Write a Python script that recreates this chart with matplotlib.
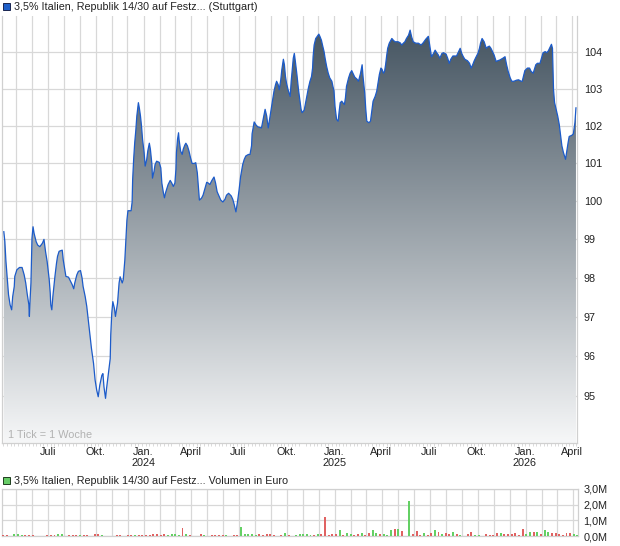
import numpy as np
import pandas as pd
import matplotlib
matplotlib.use('Agg')
import matplotlib.pyplot as plt
import matplotlib.dates as mdates
from matplotlib.patches import Polygon, Rectangle
from matplotlib.ticker import FixedLocator, FuncFormatter

plt.rcParams['font.family'] = ['Liberation Sans', 'DejaVu Sans']

# ---------------- data ----------------
start_date = '2023-04-07'
price_days = [
    1, 3, 5, 8, 10, 13, 16, 18, 21, 22, 26, 31, 36, 40, 43, 46, 49, 50, 51, 53,
    54, 55, 57, 59, 63, 66, 70, 75, 78, 81, 84, 88, 90, 91, 93, 95, 97, 99, 102, 104,
    107, 113, 115, 118, 120, 125, 129, 132, 135, 137, 141, 144, 148, 151, 153, 157, 160, 163, 166, 169,
    173, 176, 179, 182, 185, 189, 191, 193, 196, 198, 201, 205, 206, 208, 210, 213, 215, 219, 222, 224,
    228, 230, 233, 235, 237, 239, 245, 247, 248, 250, 252, 254, 256, 258, 259, 261, 263, 265, 267, 270,
    272, 275, 277, 280, 282, 285, 286, 289, 291, 294, 299, 302, 304, 307, 309, 311, 314, 316, 320, 323,
    326, 329, 331, 332, 334, 336, 337, 340, 343, 345, 348, 350, 353, 356, 359, 362, 366, 369, 372, 374,
    376, 380, 383, 387, 390, 393, 396, 400, 404, 407, 410, 414, 417, 421, 425, 428, 432, 437, 440, 443,
    446, 449, 452, 455, 459, 462, 465, 470, 473, 476, 477, 481, 485, 488, 495, 497, 500, 502, 505, 508,
    511, 515, 517, 519, 522, 524, 527, 529, 532, 534, 537, 539, 541, 543, 546, 550, 552, 554, 556, 558,
    560, 563, 566, 569, 571, 573, 577, 579, 582, 585, 588, 591, 593, 594, 596, 599, 602, 605, 607, 610,
    612, 615, 617, 620, 623, 626, 630, 632, 634, 636, 639, 642, 644, 646, 649, 651, 654, 656, 658, 662,
    665, 668, 671, 674, 678, 681, 685, 688, 690, 693, 695, 697, 701, 704, 707, 709, 713, 716, 718, 721,
    724, 726, 729, 731, 733, 735, 737, 740, 743, 745, 748, 751, 754, 757, 761, 764, 767, 770, 773, 777,
    780, 783, 786, 791, 796, 801, 805, 810, 815, 818, 821, 825, 828, 831, 834, 837, 841, 844, 849, 852,
    855, 858, 862, 865, 869, 872, 876, 879, 882, 885, 890, 894, 897, 900, 903, 906, 910, 913, 915, 918,
    922, 926, 929, 932, 935, 938, 941, 945, 948, 952, 958, 962, 965, 968, 972, 975, 979, 984, 988, 993,
    995, 998, 1000, 1005, 1009, 1012, 1016, 1018, 1021, 1024, 1029, 1032, 1035, 1039, 1042, 1045, 1048, 1051, 1053, 1055,
    1057, 1060, 1063, 1066, 1069, 1071, 1074, 1077, 1078, 1080, 1083, 1085, 1090, 1093, 1096, 1098,
]
price_values = [
    99.20, 98.94, 98.44, 97.91, 97.57, 97.31, 97.18, 97.52, 97.78, 98.04, 98.21, 98.27, 98.27, 98.08, 97.87, 97.57, 97.31, 97.01, 97.35, 97.87,
    98.43, 99.03, 99.33, 99.16, 98.94, 98.85, 98.81, 98.90, 99.00, 98.68, 98.43, 97.96, 97.61, 97.31, 97.18, 97.52, 97.78, 98.04, 98.38, 98.56,
    98.69, 98.72, 98.46, 98.21, 98.04, 98.02, 97.91, 97.83, 97.72, 97.87, 98.08, 98.17, 98.19, 98.00, 97.78, 97.52, 97.27, 96.92, 96.58, 96.20,
    95.82, 95.40, 95.15, 94.98, 95.27, 95.52, 95.56, 95.23, 94.94, 95.19, 95.52, 95.94, 96.54, 97.10, 97.39, 97.22, 97.01, 97.35, 97.87, 98.03,
    97.87, 97.96, 98.46, 98.98, 99.50, 99.75, 99.75, 99.98, 100.57, 101.13, 101.56, 101.87, 102.27, 102.52, 102.63, 102.47, 102.27, 102.00, 101.64, 101.29,
    100.93, 101.11, 101.33, 101.54, 101.38, 100.97, 100.61, 100.79, 100.97, 101.06, 101.03, 100.88, 100.48, 100.22, 100.09, 100.22, 100.35, 100.44, 100.55, 100.48,
    100.39, 100.48, 100.84, 101.29, 101.64, 101.82, 101.64, 101.33, 101.24, 101.38, 101.49, 101.54, 101.47, 101.33, 101.15, 101.00, 101.00, 101.02, 100.75, 100.39,
    100.03, 100.08, 100.16, 100.35, 100.50, 100.48, 100.44, 100.55, 100.64, 100.48, 100.25, 100.12, 100.03, 99.98, 100.05, 100.16, 100.21, 100.14, 100.05, 99.90,
    99.72, 99.98, 100.29, 100.65, 100.97, 101.11, 101.20, 101.24, 101.24, 101.47, 101.79, 102.11, 102.02, 101.98, 101.95, 102.09, 102.31, 102.45, 102.27, 101.95,
    102.22, 102.58, 102.76, 102.94, 103.12, 103.21, 103.12, 102.98, 103.25, 103.52, 103.81, 103.66, 103.34, 103.16, 102.98, 102.80, 103.21, 103.52, 103.84, 103.97,
    103.75, 103.39, 102.98, 102.67, 102.45, 102.36, 102.43, 102.58, 102.80, 103.03, 103.21, 103.34, 103.57, 103.88, 104.20, 104.38, 104.44, 104.50, 104.44, 104.33,
    104.20, 104.02, 103.84, 103.61, 103.43, 103.30, 103.21, 103.07, 102.96, 102.53, 102.18, 102.13, 102.40, 102.63, 102.67, 102.63, 102.58, 102.76, 103.07, 103.30,
    103.43, 103.50, 103.41, 103.32, 103.27, 103.21, 103.43, 103.66, 103.30, 102.89, 102.45, 102.13, 102.09, 102.13, 102.45, 102.67, 102.80, 102.94, 103.12, 103.39,
    103.57, 103.54, 103.43, 103.48, 103.66, 103.90, 104.11, 104.25, 104.33, 104.38, 104.33, 104.29, 104.29, 104.29, 104.26, 104.20, 104.25, 104.29, 104.38, 104.47,
    104.61, 104.42, 104.29, 104.25, 104.25, 104.20, 104.26, 104.36, 104.44, 104.15, 103.88, 103.97, 104.06, 103.99, 103.93, 103.84, 103.97, 103.99, 103.95, 103.84,
    103.70, 103.81, 103.90, 103.90, 103.90, 103.99, 104.11, 103.97, 103.88, 103.81, 103.77, 103.70, 103.57, 103.66, 103.77, 103.86, 103.97, 104.11, 104.25, 104.38,
    104.29, 104.11, 104.15, 104.17, 104.11, 104.02, 103.93, 103.75, 103.77, 103.79, 103.84, 103.88, 103.66, 103.48, 103.30, 103.21, 103.21, 103.24, 103.25, 103.21,
    103.21, 103.39, 103.50, 103.57, 103.57, 103.48, 103.43, 103.52, 103.66, 103.70, 103.70, 103.84, 103.99, 104.02, 103.99, 104.04, 104.13, 104.22, 104.11, 102.98,
    102.63, 102.45, 102.27, 102.04, 101.69, 101.47, 101.29, 101.15, 101.11, 101.29, 101.56, 101.72, 101.75, 101.79, 102.09, 102.49,
]

# weekly volume (millions of euro), first week = start_date
volume_millions = [
    0.04, 0.06, 0, 0.10, 0.10, 0.08, 0.04, 0.04, 0.04, 0,
    0, 0, 0.04, 0.04, 0.06, 0.10, 0.10, 0, 0.08, 0.04,
    0.04, 0.08, 0.06, 0.08, 0, 0.10, 0.15, 0.04, 0, 0,
    0, 0.04, 0.04, 0, 0.04, 0.04, 0.08, 0.06, 0.04, 0.04,
    0.06, 0.10, 0.10, 0.06, 0.10, 0.06, 0.10, 0.10, 0.08, 0.53,
    0.15, 0.04, 0, 0, 0.10, 0.06, 0, 0.08, 0.04, 0.04,
    0.06, 0.08, 0, 0.06, 0.08, 0.60, 0.10, 0.13, 0.10, 0.06,
    0.13, 0.08, 0.13, 0.13, 0.04, 0, 0.08, 0.19, 0.08, 0,
    0.06, 0.10, 0.15, 0.15, 0.08, 0.06, 0.10, 0.13, 1.20, 0.06,
    0.10, 0.15, 0.40, 0.06, 0.17, 0.10, 0.04, 0.10, 0.21, 0.06,
    0.19, 0.40, 0.21, 0.10, 0.10, 0.06, 0.38, 0.45, 0.45, 0.34,
    0, 2.25, 0.10, 0.34, 0.06, 0.17, 0.06, 0.21, 0.40, 0.23,
    0.13, 0.19, 0.13, 0.28, 0.13, 0.04, 0, 0.15, 0.23, 0.06,
    0.04, 0, 0.10, 0.04, 0.06, 0.17, 0.17, 0.13, 0.15, 0.15,
    0.17, 0.04, 0.47, 0.13, 0.26, 0.28, 0.28, 0.13, 0.38, 0.26,
    0.19, 0.19, 0.13, 0.04, 0.17, 0.17, 0.10, 0.08,
]
volume_direction = (
    'rr-gggrrr-' '--rrrgg-rr' 'rgrr-rrg--' '-rr-rrgrrr' 'rrrrrggggr'
    'gr--rg-rrr' 'rg-rrggggg' 'rrrrr-rgr-' 'gggggrgrrr' 'rrgrggrrgr'
    'rggrgggrgr' '-grrrgrrgr' 'grrgrg-rrg' 'g-rrrrgrrr' 'rrrggrgrgg'
    'rrrrrrgg'
)

price_ticks = [95, 96, 97, 98, 99, 100, 101, 102, 103, 104]
volume_ticks = [0, 1, 2, 3]
month_names = {1: 'Jan.', 4: 'April', 7: 'Juli', 10: 'Okt.'}
title_price = '3,5% Italien, Republik 14/30 auf Festz... (Stuttgart)'
title_volume = '3,5% Italien, Republik 14/30 auf Festz... Volumen in Euro'
tick_note = '1 Tick = 1 Woche'

# ---------------- figure ----------------
W, H = 620, 546
fig = plt.figure(figsize=(W / 100, H / 100), dpi=100)
fig.patch.set_facecolor('white')

def fx(px):
    return px / W

def fy(py):
    return 1 - py / H

start = pd.Timestamp(start_date)
dates = start + pd.to_timedelta(price_days, unit='D')
xnum = mdates.date2num(dates)
vals = np.array(price_values)

x_left = mdates.date2num(pd.Timestamp('2023-04-04 12:00'))
x_right = mdates.date2num(pd.Timestamp('2026-04-11'))

grid_c = '#d8d8d8'
spine_c = '#d0d0d0'
text_c = '#222222'
lab_size = 7.8

ax = fig.add_axes([fx(2), fy(443), fx(575), (443 - 16) / H])
ax.set_yscale('log')
ylo, yhi = 93.83, 105.0
ax.set_ylim(ylo, yhi)
ax.set_xlim(x_left, x_right)

# gradient fill under the line
grad = np.linspace(0, 1, 256).reshape(-1, 1)
top_c = np.array([64, 80, 93]) / 255
bot_c = np.array([246, 247, 248]) / 255
rgb = top_c[None, None, :] * (1 - grad[:, :, None]) + bot_c[None, None, :] * grad[:, :, None]
im = ax.imshow(rgb, extent=[0, 1, 0, 1], transform=ax.transAxes, aspect='auto',
               origin='upper', zorder=1, interpolation='bilinear')
poly_xy = np.column_stack([np.r_[xnum[0], xnum, xnum[-1]], np.r_[ylo * 0.98, vals, ylo * 0.98]])
poly = Polygon(poly_xy, closed=True, transform=ax.transData, facecolor='none', edgecolor='none')
ax.add_patch(poly)
im.set_clip_path(poly)

ax.plot(xnum, vals, color='#1c5bc9', lw=0.9, zorder=3)

# x ticks: month starts -> gridlines, quarter labels
months = pd.date_range('2023-05-01', '2026-04-01', freq='MS')
mnum = mdates.date2num(months)
labels = []
for m in months:
    if m.month in month_names:
        lab = month_names[m.month]
        if m.month == 1:
            lab += '\n' + str(m.year)
        labels.append(lab)
    else:
        labels.append('')
ax.set_xticks(mnum)
ax.set_xticklabels(labels, fontsize=lab_size, color=text_c, linespacing=1.1)
weeks = pd.date_range(start, '2026-04-11', freq='7D')
ax.xaxis.set_minor_locator(FixedLocator(mdates.date2num(weeks)))
ax.tick_params(axis='x', which='major', length=0, pad=3)
ax.tick_params(axis='x', which='minor', length=2, color='#d4d4d4', width=0.6)

ax.yaxis.tick_right()
ax.yaxis.set_major_locator(FixedLocator(price_ticks))
ax.yaxis.set_minor_locator(FixedLocator([]))
ax.yaxis.set_major_formatter(FuncFormatter(lambda v, p: f'{v:.0f}'))
ax.tick_params(axis='y', which='major', length=0, pad=5, labelsize=lab_size, labelcolor=text_c)

ax.grid(True, which='major', axis='both', color=grid_c, lw=0.9, zorder=0)
ax.set_axisbelow(True)
for s in ['left', 'right', 'bottom']:
    ax.spines[s].set_color(spine_c)
    ax.spines[s].set_linewidth(0.9)
ax.spines['top'].set_visible(False)
ax.set_facecolor('white')

ax.text(6 / 575, 3 / 427, tick_note, transform=ax.transAxes, fontsize=lab_size,
        color='#b2b2b2', ha='left', va='bottom', zorder=5)

# titles with colour squares
fig.patches.append(Rectangle((fx(3), fy(10)), fx(7), 7 / H, transform=fig.transFigure,
                             facecolor='#1f5fc8', edgecolor='#1a2550', lw=0.7))
fig.text(fx(14), fy(7), title_price, fontsize=7.75, color=text_c, ha='left', va='center')

fig.patches.append(Rectangle((fx(3), fy(484)), fx(7), 7 / H, transform=fig.transFigure,
                             facecolor='#66cc66', edgecolor='#1f3d1f', lw=0.7))
fig.text(fx(14), fy(480.5), title_volume, fontsize=7.75, color=text_c, ha='left', va='center')

# ---------------- volume panel ----------------
axv = fig.add_axes([fx(2), fy(536), fx(576), (536 - 489) / H])
axv.set_xlim(x_left, x_right)
axv.set_ylim(0, 3)
vdates = start + pd.to_timedelta(np.arange(len(volume_millions)) * 7, unit='D')
vnum = mdates.date2num(vdates)
for xv, v, d in zip(vnum, volume_millions, volume_direction):
    if d == '-' or v <= 0:
        continue
    axv.bar(xv, v, width=3.8, color='#64d064' if d == 'g' else '#e06262',
            align='center', zorder=3, lw=0)

axv.set_xticks(mnum)
axv.set_xticklabels([])
axv.tick_params(axis='x', length=0)
axv.yaxis.tick_right()
axv.yaxis.set_major_locator(FixedLocator(volume_ticks))
axv.yaxis.set_major_formatter(FuncFormatter(lambda v, p: f'{v:.1f}'.replace('.', ',') + 'M'))
axv.tick_params(axis='y', length=0, pad=4, labelsize=lab_size, labelcolor=text_c)
axv.grid(True, axis='both', color=grid_c, lw=0.9, zorder=0)
axv.set_axisbelow(True)
for s in ['left', 'right', 'bottom', 'top']:
    axv.spines[s].set_color(spine_c)
    axv.spines[s].set_linewidth(0.9)

fig.savefig('out.png', dpi=100, facecolor='white')
